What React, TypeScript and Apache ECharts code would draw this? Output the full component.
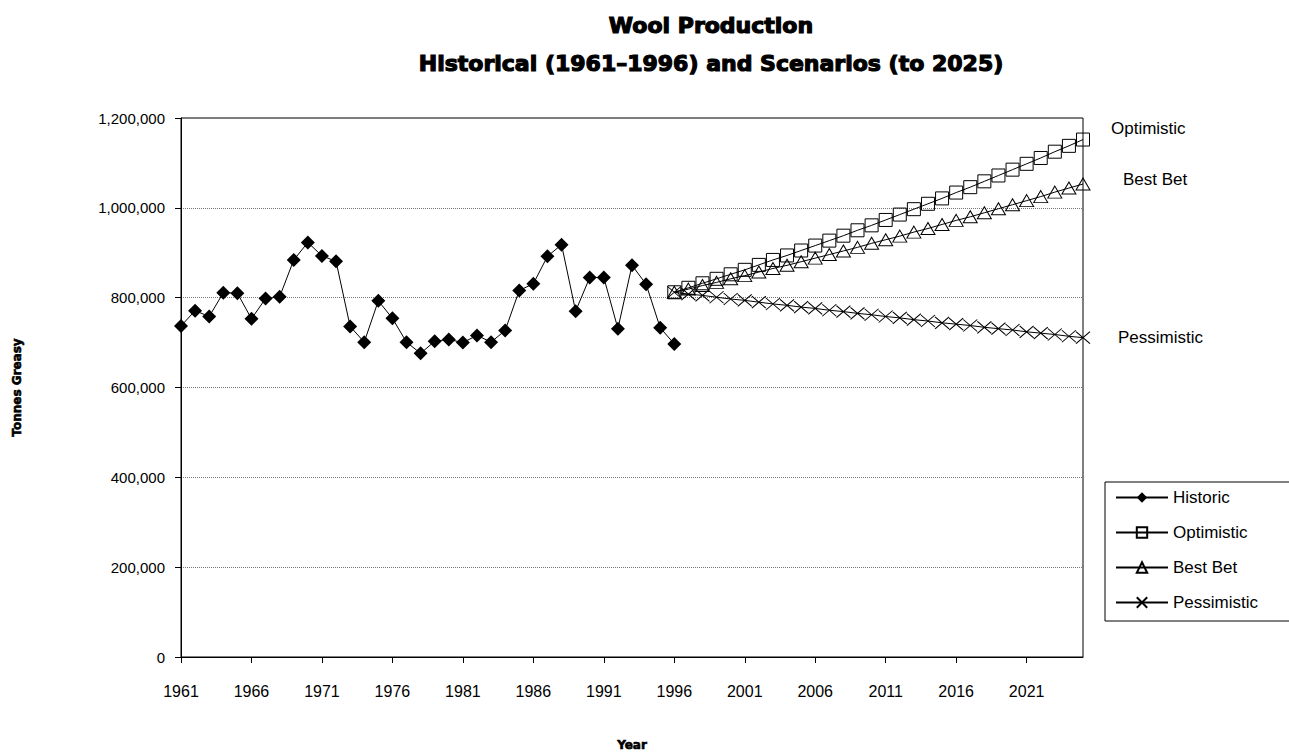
import React, { useEffect, useRef } from "react";
import * as echarts from "echarts";

// Year categories along the x axis (1961 to 2025)
const years: string[] = [];
for (let y = 1961; y <= 2025; y++) years.push(String(y));

// Historic wool production, tonnes greasy, 1961–1996
const historic = [
  737000, 771000, 758000, 811000, 810000, 753000, 798000, 802000, 884000, 923000,
  893000, 881000, 736000, 701000, 793000, 754000, 701000, 676000, 703000, 707000,
  700000, 716000, 701000, 727000, 816000, 831000, 892000, 918000, 770000, 845000,
  845000, 731000, 872000, 830000, 733000, 697000,
];

// Scenario projections, 1996–2025
const optimistic = [
  812000, 822000, 832000, 842000, 852000, 862000, 873000, 884000, 894000, 905000,
  916000, 927000, 938000, 950000, 961000, 973000, 985000, 997000, 1009000, 1021000,
  1034000, 1046000, 1059000, 1072000, 1085000, 1098000, 1111000, 1125000, 1138000, 1152000,
];
const bestBet = [
  812000, 819000, 827000, 834000, 842000, 849000, 857000, 865000, 872000, 880000,
  888000, 896000, 904000, 912000, 921000, 929000, 937000, 946000, 954000, 963000,
  972000, 980000, 989000, 998000, 1007000, 1016000, 1025000, 1035000, 1044000, 1053000,
];
const pessimistic = [
  812000, 808000, 805000, 801000, 797000, 794000, 790000, 786000, 783000, 779000,
  776000, 772000, 769000, 765000, 762000, 758000, 755000, 751000, 748000, 744000,
  741000, 738000, 734000, 731000, 728000, 724000, 721000, 718000, 714000, 711000,
];

const seriesNames = ["Historic", "Optimistic", "Best Bet", "Pessimistic"];

const SANS = "'Liberation Sans', Arial, sans-serif";
const HEAVY = "'DejaVu Sans', sans-serif";

function padHistoric(values: number[]) {
  return [...values, ...new Array(years.length - values.length).fill(null)];
}
function padScenario(values: number[]) {
  return [...new Array(years.length - values.length).fill(null), ...values];
}

const crossPath = "path://M0,0L10,10M10,0L0,10";

// Heavy headline style: bold face thickened with a thin outline
const heavyText = (size: number, stroke: number) => ({
  fontFamily: HEAVY,
  fontWeight: "bold",
  fontSize: size,
  color: "#000",
  textBorderColor: "#000",
  textBorderWidth: stroke,
});

export default function App() {
  const ref = useRef<HTMLDivElement>(null);

  useEffect(() => {
    if (!ref.current) return;
    const chart = echarts.init(ref.current, undefined, { renderer: "svg" });

    const hollow = { color: "rgba(255,255,255,0)", borderColor: "#000", borderWidth: 1 };
    const endLabel = (dx: number, dy: number) => ({
      show: true,
      formatter: (p: any) => p.seriesName,
      offset: [dx, dy],
      fontSize: 17,
      fontFamily: SANS,
      color: "#000",
    });

    chart.setOption({
      animation: false,
      backgroundColor: "#fff",
      title: [
        {
          text: "Wool Production",
          left: 706,
          top: 9,
          textAlign: "center",
          textStyle: heavyText(22, 1.2),
        },
        {
          text: "Historical (1961–1996) and Scenarios (to 2025)",
          left: 706,
          top: 47,
          textAlign: "center",
          textStyle: heavyText(22, 1.2),
        },
      ],
      grid: {
        left: 181,
        right: 206,
        top: 118,
        bottom: 96,
        outerBoundsMode: "none",
        show: true,
        borderColor: "#000",
        borderWidth: 1,
        backgroundColor: "rgba(0,0,0,0)",
      },
      legend: {
        orient: "vertical",
        left: 1105,
        top: 482,
        itemWidth: 52,
        itemHeight: 13,
        itemGap: 18,
        padding: [7, 90, 10, 10],
        borderColor: "#000",
        borderWidth: 1,
        textStyle: { fontSize: 17, fontFamily: SANS, color: "#000", lineHeight: 17 },
        data: seriesNames,
      },
      xAxis: {
        type: "category",
        data: years,
        boundaryGap: false,
        name: "Year",
        nameLocation: "middle",
        nameGap: 82,
        nameTextStyle: heavyText(12, 0.6),
        axisLine: { lineStyle: { color: "#000", width: 1 } },
        axisTick: { interval: 4, length: 6, lineStyle: { color: "#000" } },
        axisLabel: {
          interval: 4,
          margin: 26,
          fontSize: 16,
          fontFamily: SANS,
          color: "#000",
        },
        splitLine: { show: false },
      },
      yAxis: {
        type: "value",
        min: 0,
        max: 1200000,
        interval: 200000,
        name: "Tonnes Greasy",
        nameLocation: "middle",
        nameRotate: 90,
        nameGap: 158,
        nameTextStyle: heavyText(12, 0.6),
        axisLine: { show: true, lineStyle: { color: "#000", width: 1 } },
        axisTick: { show: true, length: 6, lineStyle: { color: "#000" } },
        axisLabel: {
          margin: 16,
          fontSize: 15,
          fontFamily: SANS,
          color: "#000",
          formatter: (v: number) => v.toLocaleString("en-US"),
        },
        splitLine: { show: true, lineStyle: { color: "#777", type: "dotted", width: 1 } },
      },
      series: [
        {
          name: "Historic",
          type: "line",
          data: padHistoric(historic),
          symbol: "diamond",
          symbolSize: [14, 14],
          showAllSymbol: true,
          lineStyle: { color: "#000", width: 1 },
          itemStyle: { color: "#000" },
          z: 5,
        },
        {
          name: "Optimistic",
          type: "line",
          data: padScenario(optimistic),
          symbol: "rect",
          symbolSize: [13, 13],
          showAllSymbol: true,
          lineStyle: { color: "#000", width: 1 },
          itemStyle: hollow,
          endLabel: endLabel(20, -11),
        },
        {
          name: "Best Bet",
          type: "line",
          data: padScenario(bestBet),
          symbol: "triangle",
          symbolSize: [14, 12],
          showAllSymbol: true,
          lineStyle: { color: "#000", width: 1 },
          itemStyle: hollow,
          endLabel: endLabel(32, -5),
        },
        {
          name: "Pessimistic",
          type: "line",
          data: padScenario(pessimistic),
          symbol: crossPath,
          symbolSize: [14, 12],
          showAllSymbol: true,
          lineStyle: { color: "#000", width: 1 },
          itemStyle: { color: "rgba(0,0,0,0)", borderColor: "#000", borderWidth: 1 },
          endLabel: endLabel(27, 0),
        },
      ],
    });

    return () => chart.dispose();
  }, []);

  return (
    <div
      ref={ref}
      style={{ position: "fixed", left: 0, top: 0, width: 1289, height: 753, background: "#fff" }}
    />
  );
}
